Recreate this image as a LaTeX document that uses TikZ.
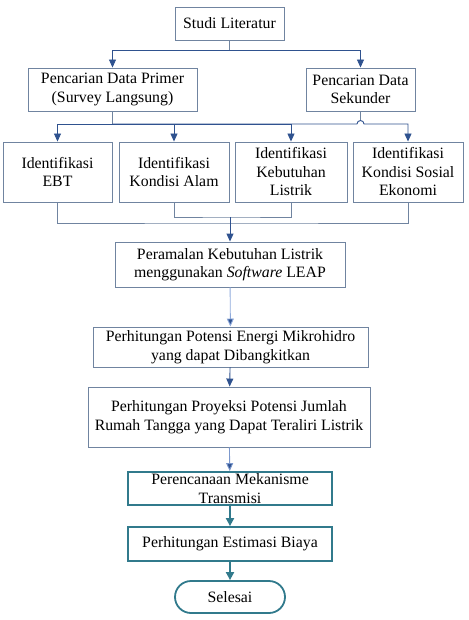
\documentclass[tikz,border=0pt]{standalone}
\usepackage{fontspec}
\setmainfont{Liberation Serif}
\usepackage{tikz}
\usetikzlibrary{arrows.meta}

\definecolor{boxgray}{RGB}{112,132,160}
\definecolor{arrblue}{RGB}{47,82,143}
\definecolor{lightblue}{RGB}{143,170,220}
\definecolor{tealc}{RGB}{49,122,140}

\tikzset{
    box/.style={draw=boxgray, line width=0.9pt, align=center, inner sep=0pt,
        font=\fontsize{15.8}{18.5}\selectfont},
    tealbox/.style={box, draw=tealc, line width=1.8pt},
    line/.style={draw=boxgray, line width=0.9pt},
    arr/.style={line, -{Triangle[width=7pt,length=8pt,fill=arrblue]}, arrblue},
    tarr/.style={draw=tealc, line width=1.8pt, -{Triangle[width=8pt,length=8pt]}}
}

\begin{document}
\begin{tikzpicture}[x=1pt, y=-1pt]
        \useasboundingbox (0,0) rectangle (468,620);
        
        \node[box, minimum width=109, minimum height=33] (studi) at (229.5,23.5) {Studi Literatur};
        \node[box, minimum width=169, minimum height=43] (primer) at (112.5,89.5) {Pencarian Data Primer\\(Survey Langsung)};
        \node[box, minimum width=109, minimum height=43] (sekunder) at (360.5,89.5) {Pencarian Data\\Sekunder};
        
        \node[box, minimum width=109, minimum height=60] (ebt) at (57.5,172) {Identifikasi\\EBT};
        \node[box, minimum width=110, minimum height=60] (alam) at (174,172) {Identifikasi\\Kondisi Alam};
        \node[box, minimum width=112, minimum height=60] (listrik) at (291,172) {Identifikasi\\Kebutuhan\\Listrik};
        \node[box, minimum width=110, minimum height=60] (sosial) at (408,172) {Identifikasi\\Kondisi Sosial\\Ekonomi};
        
        \node[box, minimum width=230, minimum height=45] (leap) at (230,264.5) {Peramalan Kebutuhan Listrik\\menggunakan \textit{Software} LEAP};
        \node[box, minimum width=275, minimum height=40] (potensi) at (230.5,347) {Perhitungan Potensi Energi Mikrohidro\\yang dapat Dibangkitkan};
        \node[box, minimum width=282, minimum height=60] (proyeksi) at (229,417) {Perhitungan Proyeksi Potensi Jumlah\\Rumah Tangga yang Dapat Teraliri Listrik};
        \node[tealbox, minimum width=204, minimum height=33] (rencana) at (230,488.5) {Perencanaan Mekanisme\\Transmisi};
        \node[tealbox, minimum width=204, minimum height=34] (biaya) at (230,544) {Perhitungan Estimasi Biaya};
        \node[tealbox, minimum width=110, minimum height=32, rounded corners=16pt] (selesai) at (230,597) {Selesai};
        
        \coordinate (splitA) at (229.5,50);
        \coordinate (splitB) at (112.5,124);
        \coordinate (joinA) at (230,223);
        \coordinate (joinB) at (230,217);
        
        \draw[line] (studi.south) -- (splitA);
        \draw[arr] (splitA) -| (primer.north);
        \draw[arr] (splitA) -| (sekunder.north);
        
        \draw[line] (primer.south) -- (splitB);
        \draw[arr] (splitB) -| (ebt.north);
        \draw[arr] (splitB) -| (alam.north);
        \draw[arr] (splitB) -| (listrik.north);
        \draw[arr] (splitB) -- (357,124) arc (180:360:3.5) -| (sosial.north);
        \draw[line] (sekunder.south) -- (360.5,120.5);
        
        \draw[line] (ebt.south) |- (joinA) -| (sosial.south);
        \draw[line] (alam.south) |- (joinB) -| (listrik.south);
        \draw[arr] (joinB) -- (leap.north);
        
        \draw[arr, draw=lightblue] (leap) -- (potensi);
        \draw[arr] (potensi) -- (proyeksi);
        \draw[arr, draw=lightblue!80!arrblue] (proyeksi) -- (rencana);
        \draw[tarr] (rencana) -- (biaya);
        \draw[tarr] (biaya) -- (selesai);
        
    \end{tikzpicture}
\end{document}
